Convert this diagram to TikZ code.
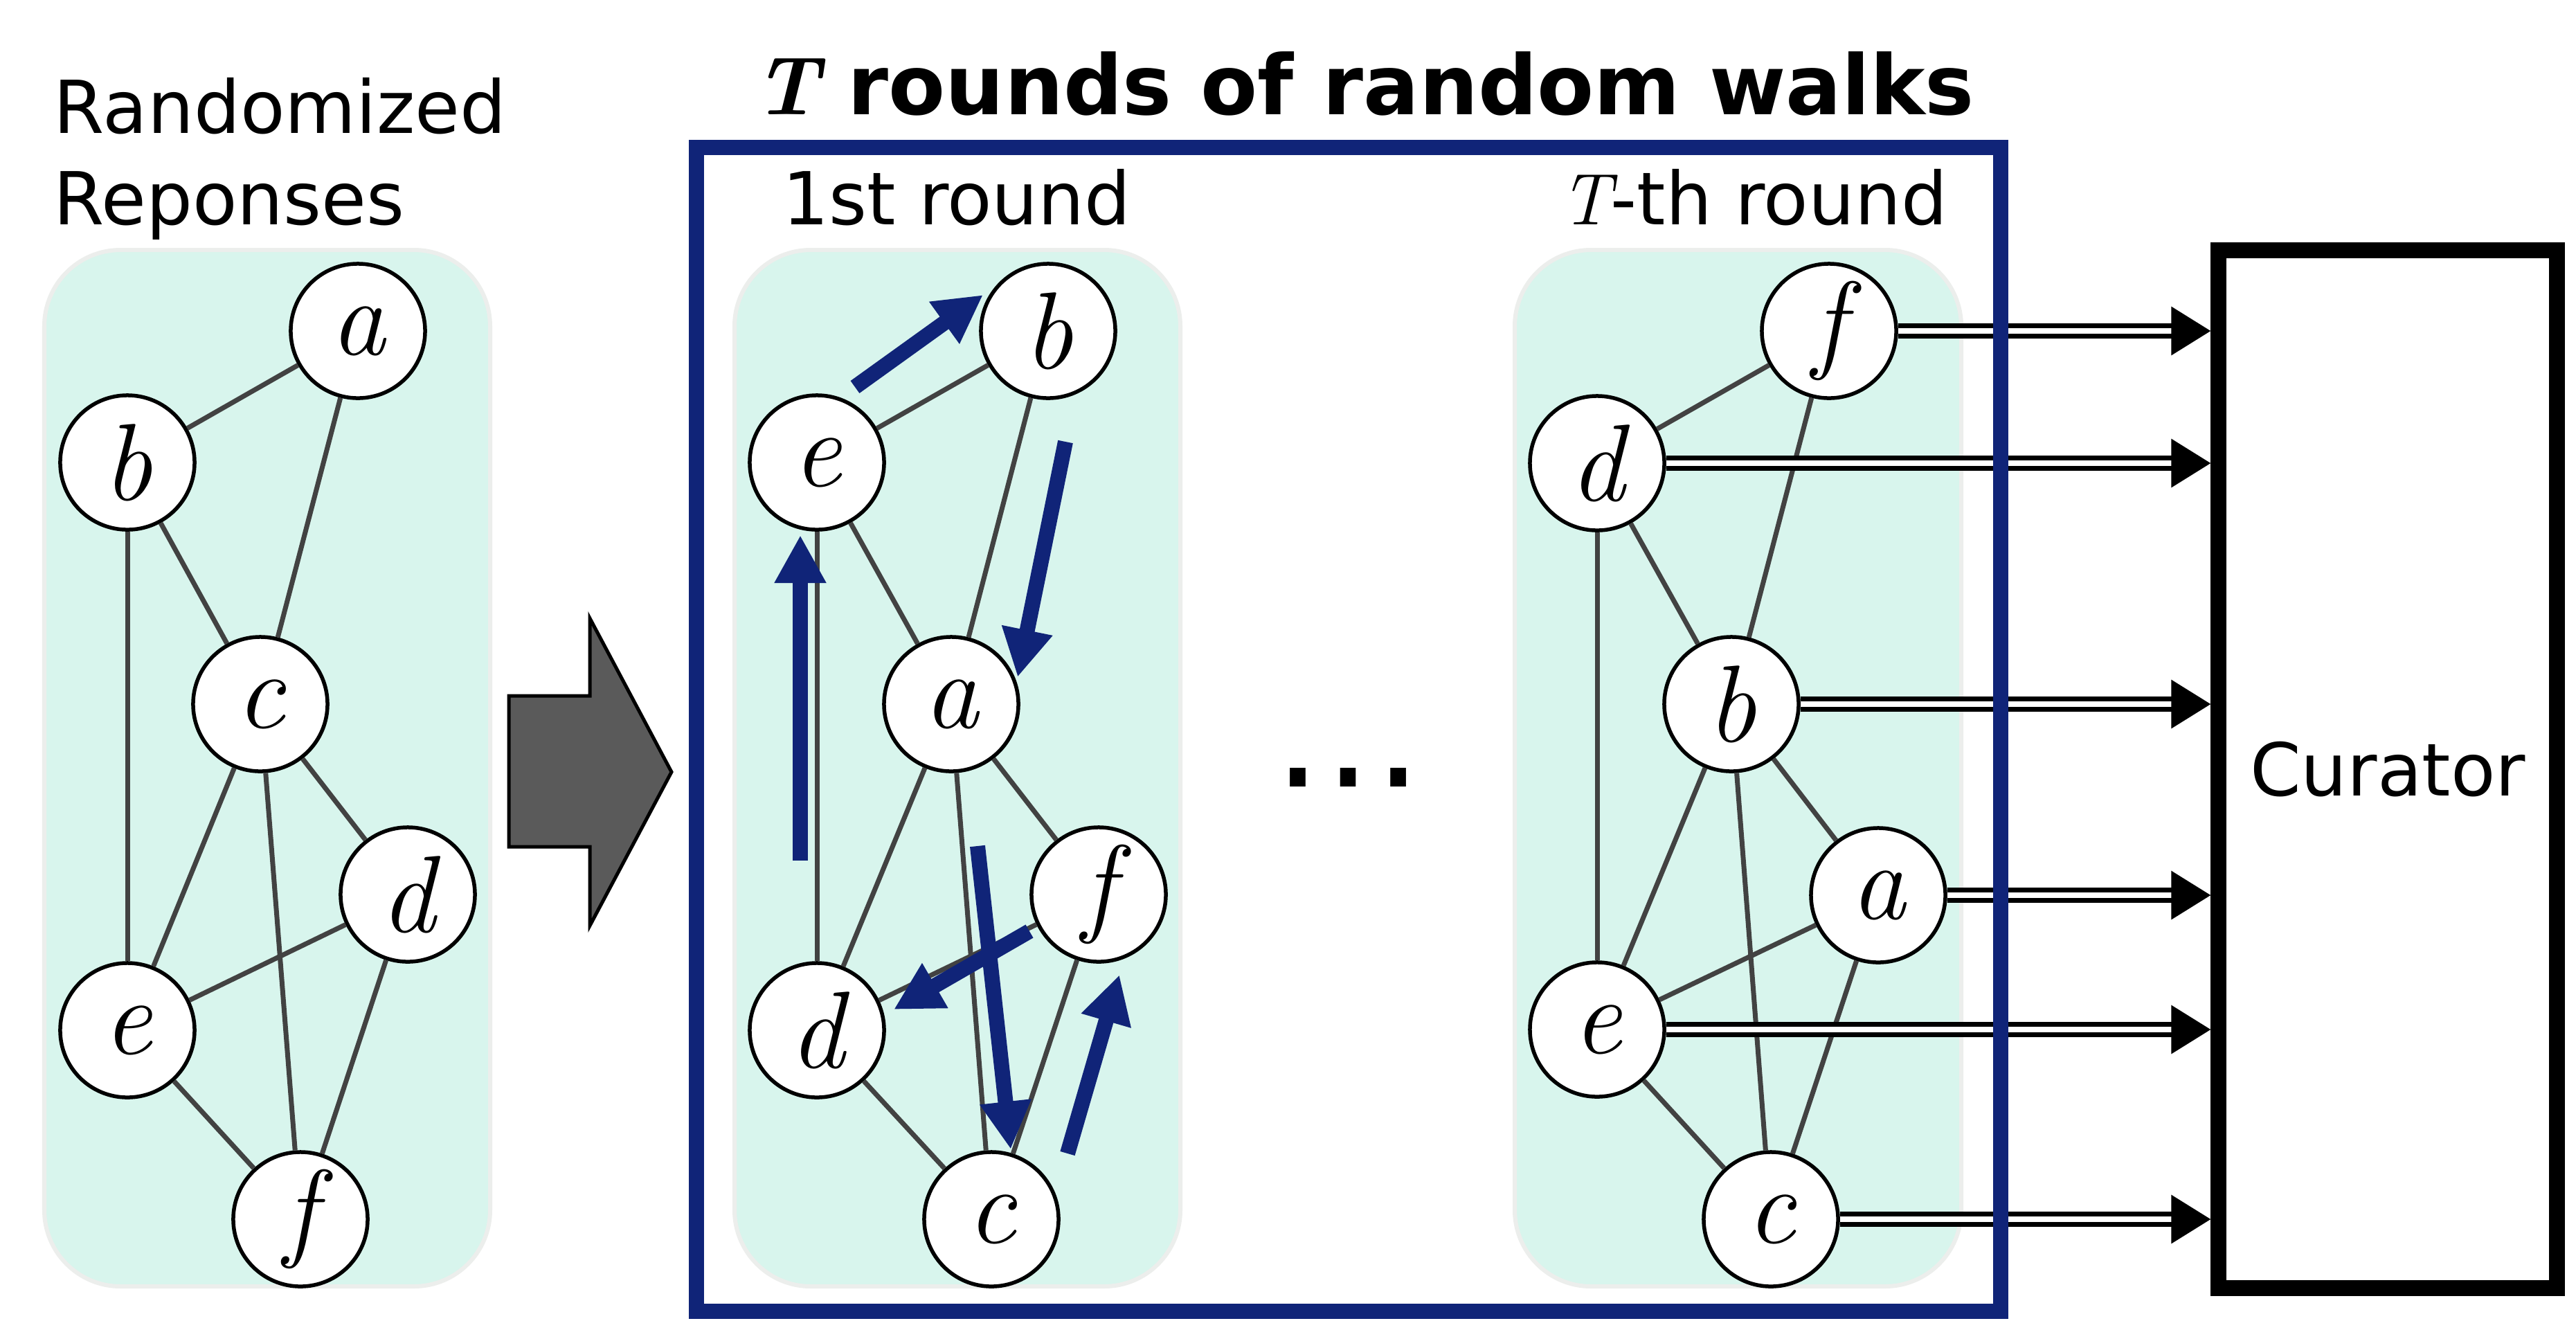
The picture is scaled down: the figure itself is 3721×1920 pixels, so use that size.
\documentclass[tikz,border=0pt]{standalone}
\usepackage{fontspec}
\setmainfont{DejaVu Sans}
\newfontfamily\varfont{Latin Modern Roman}
\newcommand{\var}[1]{{\varfont\itshape #1}}
\usetikzlibrary{arrows.meta,calc}
\definecolor{navy}{RGB}{16,36,120}
\definecolor{mint}{RGB}{216,245,237}
\definecolor{panelrim}{RGB}{236,238,236}
\definecolor{edgegray}{RGB}{66,66,66}
\definecolor{arrowgray}{RGB}{90,90,90}
\begin{document}
\begin{tikzpicture}[x=0.01cm,y=-0.01cm,
  vtx/.style={circle, draw=black, fill=white, line width=0.055cm, minimum size=1.94cm, inner sep=0pt, font=\fontsize{45}{50}\selectfont},
  edg/.style={draw=edgegray, line width=0.07cm},
  panel/.style={fill=mint, draw=panelrim, line width=0.06cm, rounded corners=1.1cm},
  walk/.style={draw=navy, line width=0.22cm, -{Triangle[width=0.70cm,length=0.69cm]}},
  dbl/.style={draw=black, line width=0.07cm, double=white, double distance=0.08cm, -{Triangle[width=0.69cm,length=0.57cm]}},
  lbl/.style={font=\fontsize{30}{36}\selectfont, inner sep=0pt},
]
\useasboundingbox (0,0) rectangle (3721,1920);
\fill[white] (0,0) rectangle (3721,1920);

% panels
\draw[panel] (64,361) rectangle (708,1858);
\draw[panel] (1061,361) rectangle (1705,1858);
\draw[panel] (2188,361) rectangle (2833,1858);

% texts
\node[lbl, anchor=base west] (t1) at (77,192) {Randomized};
\node[lbl, anchor=base west] (t2) at (77,324) {Reponses};
\node[anchor=base, inner sep=0pt, font=\fontsize{34}{40}\selectfont\bfseries] (title) at (1970,165) {{\varfont\bfseries\itshape T} rounds of random walks};
\node[lbl, anchor=base] (r1) at (1382,324) {1st round};
\node[lbl, anchor=base] (rT) at (2533,324) {\var{T}-th round};
\node[anchor=base, inner sep=0pt, font=\fontsize{62}{70}\selectfont] (dots) at (1947,1136) {…};

% big gray arrow
\draw[fill=arrowgray, draw=black, line width=0.05cm] (735,1005) -- (852,1005) -- (852,893) -- (970,1115) -- (852,1337) -- (852,1223) -- (735,1223) -- cycle;

% left graph
\node[vtx] (La) at (517,478) {\var{a}};
\node[vtx] (Lb) at (184,668) {\var{b}};
\node[vtx] (Lc) at (376,1017) {\var{c}};
\node[vtx] (Ld) at (589,1292) {\var{d}};
\node[vtx] (Le) at (184,1488) {\var{e}};
\node[vtx] (Lf) at (434,1761) {\var{f}};
\draw[edg] (La) -- (Lb);
\draw[edg] (La) -- (Lc);
\draw[edg] (Lb) -- (Lc);
\draw[edg] (Lb) -- (Le);
\draw[edg] (Lc) -- (Le);
\draw[edg] (Lc) -- (Lf);
\draw[edg] (Lc) -- (Ld);
\draw[edg] (Ld) -- (Le);
\draw[edg] (Ld) -- (Lf);
\draw[edg] (Le) -- (Lf);

% middle graph
\node[vtx] (Mb) at (1514,478) {\var{b}};
\node[vtx] (Me) at (1180,668) {\var{e}};
\node[vtx] (Ma) at (1374,1017) {\var{a}};
\node[vtx] (Mf) at (1587,1292) {\var{f}};
\node[vtx] (Md) at (1180,1488) {\var{d}};
\node[vtx] (Mc) at (1432,1761) {\var{c}};
\draw[edg] (Mb) -- (Me);
\draw[edg] (Mb) -- (Ma);
\draw[edg] (Me) -- (Ma);
\draw[edg] (Me) -- (Md);
\draw[edg] (Ma) -- (Md);
\draw[edg] (Ma) -- (Mc);
\draw[edg] (Ma) -- (Mf);
\draw[edg] (Mf) -- (Md);
\draw[edg] (Mf) -- (Mc);
\draw[edg] (Md) -- (Mc);

% random walk arrows
\coordinate (w1s) at (1156,1243); \coordinate (w1e) at (1156,773);
\coordinate (w2s) at (1235,559);  \coordinate (w2e) at (1420,426);
\coordinate (w3s) at (1539,638);  \coordinate (w3e) at (1470,978);
\coordinate (w4s) at (1412,1222); \coordinate (w4e) at (1460,1660);
\coordinate (w5s) at (1542,1666); \coordinate (w5e) at (1617,1408);
\coordinate (w6s) at (1487,1345); \coordinate (w6e) at (1291,1458);
\draw[walk] (w1s) -- (w1e);
\draw[walk] (w2s) -- (w2e);
\draw[walk] (w3s) -- (w3e);
\draw[walk] (w4s) -- (w4e);
\draw[walk] (w5s) -- (w5e);
\draw[walk] (w6s) -- (w6e);

% right graph
\node[vtx] (Rf) at (2642,478) {\var{f}};
\node[vtx] (Rd) at (2307,669) {\var{d}};
\node[vtx] (Rb) at (2501,1017) {\var{b}};
\node[vtx] (Ra) at (2713,1293) {\var{a}};
\node[vtx] (Re) at (2307,1487) {\var{e}};
\node[vtx] (Rc) at (2558,1761) {\var{c}};
\draw[edg] (Rf) -- (Rd);
\draw[edg] (Rf) -- (Rb);
\draw[edg] (Rd) -- (Rb);
\draw[edg] (Rd) -- (Re);
\draw[edg] (Rb) -- (Re);
\draw[edg] (Rb) -- (Rc);
\draw[edg] (Rb) -- (Ra);
\draw[edg] (Ra) -- (Re);
\draw[edg] (Ra) -- (Rc);
\draw[edg] (Re) -- (Rc);

% curator
\node[draw=black, line width=0.23cm, minimum width=4.88cm, minimum height=14.99cm, inner sep=0pt, font=\fontsize{30}{36}\selectfont] (cur) at (3449,1111) {Curator};

\draw[dbl] (Rf) -- (Rf -| cur.west);
\draw[dbl] (Rd) -- (Rd -| cur.west);
\draw[dbl] (Rb) -- (Rb -| cur.west);
\draw[dbl] (Ra) -- (Ra -| cur.west);
\draw[dbl] (Re) -- (Re -| cur.west);
\draw[dbl] (Rc) -- (Rc -| cur.west);

% blue frame
\draw[navy, line width=0.22cm] (1006,213) rectangle (2890,1894);
\end{tikzpicture}
\end{document}
